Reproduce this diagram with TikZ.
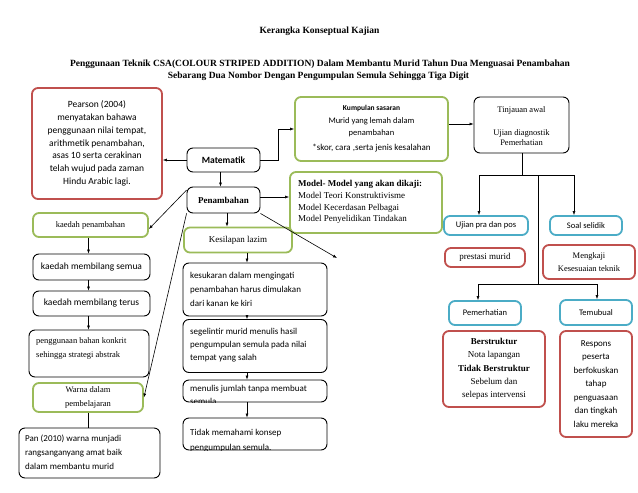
\documentclass[tikz,border=0pt]{standalone}
\usepackage{fontspec}
\setmainfont{Liberation Serif}
\newfontfamily\calib{Carlito}
\usetikzlibrary{arrows.meta}
\definecolor{grn}{RGB}{155,187,89}
\definecolor{rd}{RGB}{192,80,77}
\definecolor{blu}{RGB}{75,172,198}
\tikzset{
 base/.style={rectangle, rounded corners=6pt, inner sep=2pt, align=center},
 blk/.style={base, draw=black, line width=0.9pt},
 gbox/.style={base, draw=grn, line width=1.8pt},
 rbox/.style={base, draw=rd, line width=1.8pt},
 bbox/.style={base, draw=blu, line width=1.8pt},
 conn/.style={draw=black, line width=0.6pt},
 arr/.style={conn, -{Latex[length=4pt,width=3pt]}},
 cf/.style={font=\calib\fontsize{9.5}{12.8}\selectfont},
 cfs/.style={font=\calib\fontsize{8.5}{10}\selectfont},
 tf/.style={font=\fontsize{9}{13}\selectfont},
 tfs/.style={font=\fontsize{8.5}{10}\selectfont},
 ttl/.style={font=\bfseries\fontsize{9.5}{12}\selectfont},
 plain/.style={inner sep=0pt, align=left},
}
\begin{document}
\begin{tikzpicture}[x=1pt,y=-1pt]
\path[fill=white] (0,0) rectangle (638,493);
\useasboundingbox (0,0) rectangle (638,493);

% titles
\node[ttl] (title) at (319.5,31) {Kerangka Konseptual Kajian};
\node[ttl] (sub1) at (320,64) {Penggunaan Teknik CSA(COLOUR  STRIPED  ADDITION) Dalam Membantu Murid Tahun  Dua Menguasai Penambahan};
\node[ttl] (sub2) at (318.5,76) {Sebarang Dua Nombor Dengan Pengumpulan  Semula Sehingga Tiga Digit};

% left top
\node[rbox, cf, minimum width=130pt, minimum height=111pt] (pearson) at (97,143.5)
 {Pearson (2004)\\menyatakan bahawa\\penggunaan nilai tempat,\\arithmetik penambahan,\\asas  10 serta cerakinan\\telah wujud pada zaman\\Hindu Arabic lagi.};
\node[blk, cf, minimum width=73pt, minimum height=24pt] (mat) at (223.5,160) {\textbf{Matematik}};
\node[blk, tf, minimum width=73pt, minimum height=26pt] (pen) at (223.5,200) {\textbf{Penambahan}};

% kumpulan
\node[gbox, minimum width=153pt, minimum height=64pt] (kump) at (371.5,129) {};
\node[plain, align=center] (kumpt) at (371.5,129)
 {{\calib\fontsize{7.5}{9}\selectfont\textbf{Kumpulan sasaran}}\\[1pt]
  {\calib\fontsize{8.5}{11.5}\selectfont Murid yang lemah dalam}\\
  {\calib\fontsize{8.5}{11.5}\selectfont penambahan}\\[3pt]
  {\calib\fontsize{9}{10}\selectfont *skor, cara ,serta jenis kesalahan}};

% tinjauan
\node[blk, minimum width=95pt, minimum height=56pt] (tinj) at (521.5,125) {};
\node[plain, tfs, align=center] (tinjt) at (521.5,126) {Tinjauan  awal\\[13pt]Ujian diagnostik\\Pemerhatian};

% model
\node[gbox, minimum width=152pt, minimum height=61pt] (model) at (366,202.5) {};
\node[plain, font=\fontsize{9}{11.8}\selectfont, anchor=west] (modelt) at (298,202)
 {\textbf{Model- Model yang akan dikaji:}\\Model Teori  Konstruktivisme\\Model Kecerdasan Pelbagai\\Model Penyelidikan  Tindakan};

% left column
\node[gbox, tfs, minimum width=115pt, minimum height=24pt] (kpen) at (90.5,225) {kaedah penambahan};
\node[blk, cf, minimum width=117pt, minimum height=26pt] (ksemua) at (91.5,267) {kaedah membilang semua};
\node[blk, cf, minimum width=117pt, minimum height=25pt] (kterus) at (91.5,303.5) {kaedah membilang terus};
\node[blk, minimum width=120pt, minimum height=47pt] (konkrit) at (89,353.5) {};
\node[plain, font=\fontsize{8.5}{14}\selectfont, anchor=north west] (konkritt) at (36,337) {penggunaan  bahan konkrit\\sehingga  strategi abstrak};
\node[gbox, font=\fontsize{8.5}{14}\selectfont, minimum width=110pt, minimum height=29pt] (warna) at (88,397.5) {Warna dalam\\pembelajaran};
\node[blk, minimum width=141pt, minimum height=50pt] (pan) at (89.5,453) {};
\node[plain, font=\calib\fontsize{9}{14}\selectfont, anchor=west] (pant) at (25,452) {Pan (2010) warna munjadi\\rangsanganyang amat baik\\dalam membantu murid};

% middle column
\node[gbox, tf, minimum width=108pt, minimum height=25pt] (kesil) at (238,240) {Kesilapan  lazim};
\node[blk, minimum width=144pt, minimum height=53pt] (kesuk) at (255,289.5) {};
\node[plain, font=\calib\fontsize{9}{14}\selectfont, anchor=west] (kesukt) at (190,289.5) {kesukaran dalam mengingati\\penambahan harus dimulakan\\dari kanan ke kiri};
\node[blk, minimum width=144pt, minimum height=53pt] (segel) at (255,346) {};
\node[plain, font=\calib\fontsize{9}{13}\selectfont, anchor=west] (segelt) at (190,345) {segelintir murid menulis hasil\\pengumpulan semula pada nilai\\tempat yang salah};
\node[blk, minimum width=144pt, minimum height=22pt] (menulis) at (255,391) {};
\node[blk, minimum width=144pt, minimum height=32pt] (tidak) at (255,434) {};
\begin{scope}
 \clip[rounded corners=6pt] (menulis.south west) rectangle (menulis.north east);
 \node[plain, font=\calib\fontsize{9}{12.5}\selectfont, anchor=west] (menulist) at (190,395) {menulis  jumlah tanpa membuat\\semula};
\end{scope}
\begin{scope}
 \clip[rounded corners=6pt] (tidak.south west) rectangle (tidak.north east);
 \node[plain, font=\calib\fontsize{9}{15}\selectfont, anchor=west] (tidakt) at (190,441) {Tidak memahami  konsep\\pengumpulan  semula.};
\end{scope}

% right column
\node[bbox, cfs, minimum width=84pt, minimum height=19pt] (ujian) at (486,225.5) {Ujian pra dan pos};
\node[bbox, cfs, minimum width=72pt, minimum height=19pt] (soal) at (586,225.5) {Soal selidik};
\node[rbox, tf, minimum width=80pt, minimum height=19pt] (prestasi) at (485,257.5) {prestasi murid};
\node[rbox, font=\fontsize{8.5}{13}\selectfont, minimum width=92pt, minimum height=34pt] (mengkaji) at (589,262) {Mengkaji\\Kesesuaian  teknik};
\node[bbox, cfs, minimum width=72pt, minimum height=24pt] (pemer) at (485,313) {Pemerhatian};
\node[bbox, cfs, minimum width=72pt, minimum height=25pt] (temu) at (596,312.5) {Temubual};
\node[rbox, font=\fontsize{9}{13.3}\selectfont, minimum width=102pt, minimum height=76pt] (berstr) at (494,369)
 {\textbf{Berstruktur}\\Nota lapangan\\\textbf{Tidak  Berstruktur}\\Sebelum  dan\\selepas  intervensi};
\node[rbox, font=\calib\fontsize{9}{13.5}\selectfont, minimum width=72pt, minimum height=106pt] (respons) at (596,384)
 {Respons\\peserta\\berfokuskan\\tahap\\penguasaan\\dan tingkah\\laku mereka};

% junction coordinates
\coordinate (j1) at (522.5,175);
\coordinate (jl) at (479,175);
\coordinate (jr) at (574,175);
\coordinate (jm) at (538,175);
\coordinate (j2) at (538,284);
\coordinate (j2l) at (478,284);
\coordinate (j2r) at (597,284);
\coordinate (free) at (337,258);
\coordinate (bend) at (278,160);

% connectors
\draw[arr] (mat.west) -- (mat.west -| pearson.east);
\draw[arr] (mat.east) -- (bend) |- (kump.west);
\draw[arr] (kump.east |- 0,124) -- (tinj.west |- 0,124);
\draw[arr] ([xshift=-3pt]mat.south) -- ([xshift=-3pt]pen.north);
\draw[arr] (pen.east |- 0,197) -- (model.west |- 0,197);
\draw[arr] (pen.165) -- ([yshift=-4pt]kpen.east);
\draw[arr] (pen.200) -- (warna.east);
\draw[arr] (pen.south east) -- (free);
\draw[arr] ([xshift=3.5pt]pen.south) -- ([xshift=3.5pt]pen.south |- kesil.north);
\draw[arr] ([xshift=9pt]kesil.south) -- ([xshift=9pt]kesil.south |- kesuk.north);
\draw[arr] ([xshift=-8pt]kesuk.south) -- ([xshift=-8pt]segel.north);
\draw[arr] ([xshift=-8pt]segel.south) -- ([xshift=-8pt]menulis.north);
\draw[arr] ([xshift=-8pt]menulis.south) -- ([xshift=-8pt]tidak.north);
\draw[arr] ([xshift=-2pt]kpen.south) -- ([xshift=-2pt]kpen.south |- ksemua.north);
\draw[arr] ([xshift=-3pt]ksemua.south) -- ([xshift=-3pt]kterus.north);
\draw[arr] ([xshift=-3pt]kterus.south) -- ([xshift=-3pt]kterus.south |- konkrit.north);
\draw[conn] (warna.south) -- (warna.south |- pan.north);

\draw[conn] (tinj.south -| j1) -- (j1);
\draw[conn] (jl) -- (jr);
\draw[arr] (jl) -- (jl |- ujian.north);
\draw[arr] (jr) -- (jr |- soal.north);
\draw[conn] (jm) -- (j2);
\draw[conn] (j2l) -- (j2r);
\draw[arr] (j2l) -- (j2l |- pemer.north);
\draw[arr] (j2r) -- (j2r |- temu.north);
\end{tikzpicture}
\end{document}
